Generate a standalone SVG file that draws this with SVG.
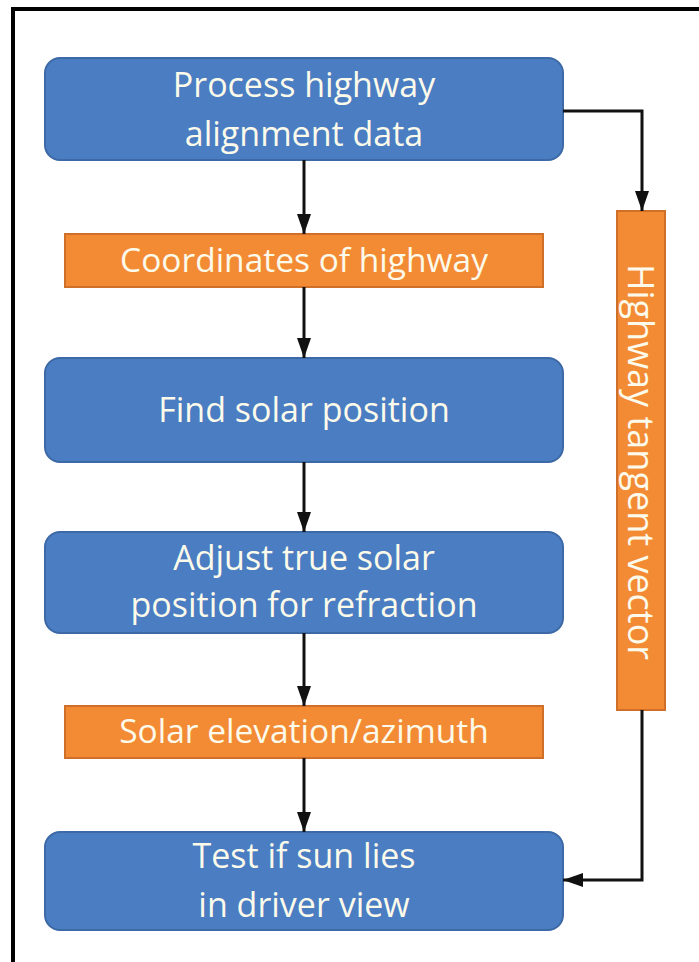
<svg xmlns="http://www.w3.org/2000/svg" width="699" height="962" viewBox="0 0 699 962">
  <defs>
    <marker id="arrow" viewBox="0 0 20 14" refX="20" refY="7" markerWidth="20" markerHeight="14" markerUnits="userSpaceOnUse" orient="auto">
      <path d="M0,0 L20,7 L0,14 Z" fill="#111"/>
    </marker>
    <style>
      .step { fill: #4a7dc2; stroke: #3d69a6; stroke-width: 2; }
      .data { fill: #f38b35; stroke: #cf6f28; stroke-width: 2; }
      .label { font-family: "Open Sans", "Noto Sans", sans-serif; fill: #fcfaea; text-anchor: middle; }
      .big { font-size: 34px; }
      .small { font-size: 33.5px; }
      .tall { font-size: 36px; }
      .wire { fill: none; stroke: #111; stroke-width: 3; marker-end: url(#arrow); }
    </style>
  </defs>

  <rect x="0" y="0" width="699" height="962" fill="#ffffff"/>
  <!-- frame: top and left rules -->
  <path d="M13,962 L13,9 L699,9" fill="none" stroke="#000" stroke-width="4"/>

  <g id="process-alignment">
    <rect class="step" x="45" y="58" width="518" height="102" rx="15"/>
    <text class="label big" x="304" y="97">Process highway</text>
    <text class="label big" x="304" y="146">alignment data</text>
  </g>

  <g id="coordinates">
    <rect class="data" x="65" y="234" width="478" height="53"/>
    <text class="label small" x="304" y="272">Coordinates of highway</text>
  </g>

  <g id="find-solar">
    <rect class="step" x="45" y="358" width="518" height="104" rx="15"/>
    <text class="label big" x="304" y="422">Find solar position</text>
  </g>

  <g id="adjust-refraction">
    <rect class="step" x="45" y="532" width="518" height="101" rx="15"/>
    <text class="label big" x="304" y="570">Adjust true solar</text>
    <text class="label big" x="304" y="617">position for refraction</text>
  </g>

  <g id="elevation-azimuth">
    <rect class="data" x="65" y="706" width="478" height="52"/>
    <text class="label small" x="304" y="743">Solar elevation/azimuth</text>
  </g>

  <g id="test-view">
    <rect class="step" x="45" y="832" width="518" height="98" rx="15"/>
    <text class="label big" x="304" y="868">Test if sun lies</text>
    <text class="label big" x="304" y="917">in driver view</text>
  </g>

  <g id="tangent-vector">
    <rect class="data" x="617" y="211" width="48" height="499"/>
    <text class="label tall" transform="translate(641,462) rotate(90)" x="0" y="13">Highway tangent vector</text>
  </g>

  <g id="connectors">
    <path class="wire" d="M304,160 L304,234"/>
    <path class="wire" d="M304,287 L304,358"/>
    <path class="wire" d="M304,462 L304,532"/>
    <path class="wire" d="M304,633 L304,706"/>
    <path class="wire" d="M304,758 L304,832"/>
    <path class="wire" d="M563,111 L642,111 L642,211"/>
    <path class="wire" d="M642,710 L642,880 L563,880"/>
  </g>
</svg>
